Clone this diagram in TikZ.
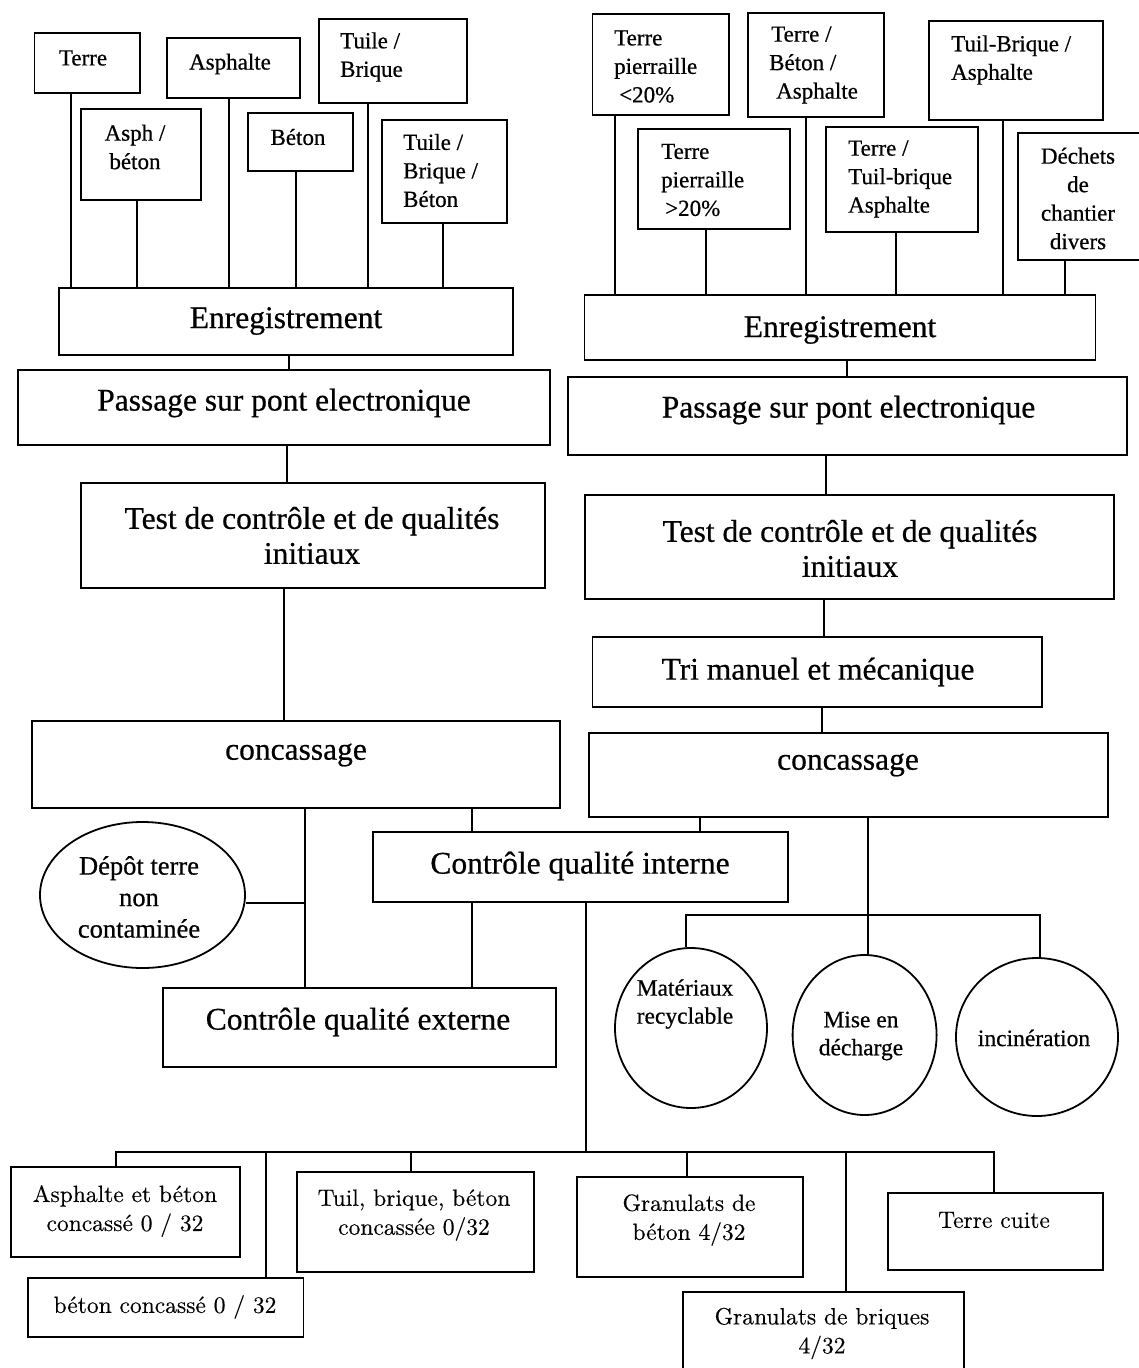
\documentclass[tikz,border=0pt]{standalone}
\usepackage{fontspec}
\newfontfamily\tnr[FakeBold=0.6]{Liberation Serif}
\newfontfamily\lmr[FakeBold=0.3]{lmroman10-regular.otf}
\usetikzlibrary{fit,shapes.geometric}
\tikzset{
  frame/.style={draw, line width=1.8pt, inner sep=0pt},
  oval/.style={draw, ellipse, line width=1.8pt, inner sep=0pt},
  wire/.style={line width=1.8pt},
  srctxt/.style={font=\tnr\fontsize{23}{28.5}\selectfont, inner sep=0pt, align=center},
  srcleft/.style={srctxt, align=left, anchor=west},
  bigtxt/.style={font=\tnr\fontsize{31.5}{35}\selectfont, inner sep=0pt, align=center},
  ovaltxt/.style={font=\tnr\fontsize{26.5}{31.5}\selectfont, inner sep=0pt, align=center},
  roundtxt/.style={font=\tnr\fontsize{23.5}{28}\selectfont, inner sep=0pt, align=center},
  outtxt/.style={font=\lmr\fontsize{23.5}{29}\selectfont, inner sep=0pt, align=center},
}
\begin{document}
\begin{tikzpicture}[x=1pt,y=-1pt]
\useasboundingbox (0,0) rectangle (1139,1368);
\clip (0,0) rectangle (1139,1368);

% ---------- incoming materials, left plant ----------
\node[frame, fit={(34.5,33) (140,93)}] (sl1) {};
\node[srctxt] (sl1t) at (83,58) {Terre};
\node[frame, fit={(81,109) (201,200)}] (sl2) {};
\node[srctxt] (sl2t) at (135,147) {Asph /\\béton};
\node[frame, fit={(167,38) (300,98)}] (sl3) {};
\node[srctxt] (sl3t) at (230,64) {Asphalte};
\node[frame, fit={(248,113) (353,171)}] (sl4) {};
\node[srctxt] (sl4t) at (298,137) {Béton};
\node[frame, fit={(319,19) (467,103)}] (sl5) {};
\node[srcleft] (sl5t) at (340,57) {Tuile /\\Brique};
\node[frame, fit={(382,120) (507,223)}] (sl6) {};
\node[srcleft] (sl6t) at (403,170.5) {Tuile /\\Brique /\\Béton};

% ---------- incoming materials, right plant ----------
\node[frame, fit={(592.5,14) (728.6,115)}] (sr1) {};
\node[srcleft] (sr1t) at (614,66.5) {Terre\\pierraille\\\hspace*{5pt}<20\%};
\node[frame, fit={(638,129) (790,229)}] (sr2) {};
\node[srcleft] (sr2t) at (661,180) {Terre\\pierraille\\\hspace*{4pt}>20\%};
\node[frame, fit={(748,13) (884,117)}] (sr3) {};
\node[srcleft] (sr3t) at (769,65) {\hspace*{2pt}Terre /\\Béton /\\\hspace*{7pt}Asphalte};
\node[frame, fit={(826,127) (978,232)}] (sr4) {};
\node[srcleft] (sr4t) at (848,179) {Terre /\\Tuil-brique\\Asphalte};
\node[frame, fit={(929,21) (1103,120)}] (sr5) {};
\node[srcleft] (sr5t) at (951,60) {Tuil-Brique /\\Asphalte};
\node[frame, fit={(1018,133) (1150,260)}] (sr6) {};
\node[srctxt] (sr6t) at (1078,198.5) {Déchets\\de\\chantier\\divers};

% ---------- process steps ----------
\node[frame, fit={(59,288) (513,355)}] (regl) {};
\node[bigtxt] (reglt) at (286,321) {Enregistrement};
\node[frame, fit={(584.5,295) (1095.5,360)}] (regr) {};
\node[bigtxt] (regrt) at (840,330) {Enregistrement};

\node[frame, fit={(18,370) (550,445)}] (pontl) {};
\node[bigtxt] (pontlt) at (284,403) {Passage sur pont electronique};
\node[frame, fit={(568,377) (1127,455)}] (pontr) {};
\node[bigtxt] (pontrt) at (848.5,410) {Passage sur pont electronique};

\node[frame, fit={(81,483) (545,588)}] (testl) {};
\node[bigtxt] (testlt) at (312,535.5) {Test de contrôle et de qualités\\initiaux};
\node[frame, fit={(585,495) (1114,599)}] (testr) {};
\node[bigtxt] (testrt) at (850,548.5) {Test de contrôle et de qualités\\initiaux};

\node[frame, fit={(592.5,637) (1042,707)}] (tri) {};
\node[bigtxt] (trit) at (818,672) {Tri manuel et mécanique};

\node[frame, fit={(32,721) (560,808)}] (concl) {};
\node[bigtxt] (conclt) at (296,755) {concassage};
\node[frame, fit={(589,733) (1108,817)}] (concr) {};
\node[bigtxt] (concrt) at (848,765) {concassage};

\node[frame, fit={(373,832) (788,902)}] (cqi) {};
\node[bigtxt] (cqit) at (580,866) {Contrôle qualité interne};
\node[frame, fit={(163,988) (556,1067)}] (cqe) {};
\node[bigtxt] (cqet) at (358,1022) {Contrôle qualité externe};

% ---------- destinations ----------
\node[oval, minimum width=205pt, minimum height=146pt] (dep) at (142.5,895) {};
\node[ovaltxt] (dept) at (139,897) {Dépôt terre\\non\\contaminée};

\node[oval, minimum width=152pt, minimum height=160pt] (recy) at (691,1028) {};
\node[roundtxt] (recyt) at (685,1004) {Matériaux\\recyclable};
\node[oval, minimum width=144pt, minimum height=160pt] (dech) at (864.6,1035) {};
\node[roundtxt] (decht) at (861,1036) {Mise en\\décharge};
\node[oval, minimum width=162pt, minimum height=158pt] (inci) at (1037,1037) {};
\node[roundtxt] (incit) at (1034,1038) {incinération};

% ---------- recycled products ----------
\node[frame, fit={(11,1167) (240,1257)}] (asb) {};
\node[outtxt] (asbt) at (125,1211) {Asphalte et béton\\concassé 0 / 32};
\node[frame, fit={(28,1278) (303.5,1337)}] (bc) {};
\node[outtxt] (bct) at (165,1307) {béton concassé 0 / 32};
\node[frame, fit={(297,1172) (534,1272)}] (tbb) {};
\node[outtxt] (tbbt) at (414,1215) {Tuil, brique, béton\\concassée 0/32};
\node[frame, fit={(576.6,1177) (803,1277)}] (gbe) {};
\node[outtxt] (gbet) at (689,1220) {Granulats de\\béton 4/32};
\node[frame, fit={(888,1193) (1103,1270)}] (tc) {};
\node[outtxt] (tct) at (994,1220) {Terre cuite};
\node[frame, fit={(683,1292) (964,1385)}] (gbr) {};
\node[outtxt] (gbrt) at (822,1333.5) {Granulats de briques\\4/32};

% ---------- connectors ----------
\foreach \n/\xx in {sl1/71, sl2/137, sl3/229, sl4/296, sl5/368, sl6/443}
  \draw[wire] (\n.south -| \xx,0) -- (regl.north -| \xx,0);
\foreach \n/\xx in {sr1/615, sr2/706, sr3/806, sr4/896, sr5/1003, sr6/1065}
  \draw[wire] (\n.south -| \xx,0) -- (regr.north -| \xx,0);

\draw[wire] (regl.south -| 289,0) -- (pontl.north -| 289,0);
\draw[wire] (pontl.south -| 287,0) -- (testl.north -| 287,0);
\draw[wire] (testl.south -| 284,0) -- (concl.north -| 284,0);

\draw[wire] (regr.south -| 847,0) -- (pontr.north -| 847,0);
\draw[wire] (pontr.south -| 826,0) -- (testr.north -| 826,0);
\draw[wire] (testr.south -| 824,0) -- (tri.north -| 824,0);
\draw[wire] (tri.south -| 822,0) -- (concr.north -| 822,0);

\coordinate (jd) at (305,903);
\draw[wire] (concl.south -| jd) -- (cqe.north -| jd);
\draw[wire] (dep.east |- jd) -- (jd);
\draw[wire] (concl.south -| 472,0) -- (cqi.north -| 472,0);
\draw[wire] (cqi.south -| 472,0) -- (cqe.north -| 472,0);
\draw[wire] (concr.south -| 700,0) -- (cqi.north -| 700,0);

\coordinate (jr) at (868,915);
\draw[wire] (concr.south -| jr) -- (jr);
\draw[wire] (recy.north -| 686,0) |- (jr) -| (inci.north -| 1040,0);
\draw[wire] (jr) -- (dech.north -| jr);

\coordinate (bus) at (586,1152);
\coordinate (busL) at (116,1152);
\coordinate (busR) at (994,1152);
\coordinate (b1) at (266,1152);
\coordinate (b2) at (411,1152);
\coordinate (b3) at (687,1152);
\coordinate (b4) at (846,1152);
\draw[wire] (cqi.south -| bus) -- (bus);
\draw[wire] (asb.north -| busL) -- (busL) -- (busR) -- (tc.north -| busR);
\draw[wire] (b1) -- (bc.north -| b1);
\draw[wire] (b2) -- (tbb.north -| b2);
\draw[wire] (b3) -- (gbe.north -| b3);
\draw[wire] (b4) -- (gbr.north -| b4);
\end{tikzpicture}
\end{document}
